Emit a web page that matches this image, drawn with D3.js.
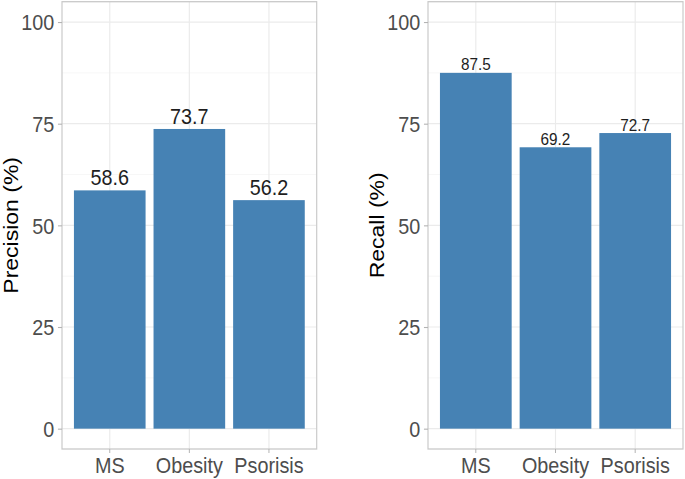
<!DOCTYPE html>
<html>
<head>
<meta charset="utf-8">
<script src="https://cdn.jsdelivr.net/npm/d3@7"></script>
<style>
	html, body { margin: 0; padding: 0; background: #fff; }
	svg { display: block; font-family: "Liberation Sans", Arial, sans-serif; }
</style>
</head>
<body>
<div id="chart"></div>
<script>
const categories = ["MS", "Obesity", "Psorisis"];
const precision = [58.6, 73.7, 56.2];
const recall = [87.5, 69.2, 72.7];
const majorTicks = [0, 25, 50, 75, 100];
const minorTicks = [12.5, 37.5, 62.5, 87.5];

const W = 685, H = 479;
// the original picture is squeezed sideways, so draw in a wider space and squash
const sx = 0.9;

const svg = d3.select("#chart").append("svg")
	.attr("width", W)
	.attr("height", H);

const root = svg.append("g").attr("transform", `scale(${sx},1)`);

const y = d3.scaleLinear().domain([-5, 105]).range([449, 1.7]);

function panel(x0, x1, values, title, titleX, labelSize, labelGap) {
	const g = root.append("g");
	const x = d3.scaleBand()
		.domain(categories)
		.range([x0, x1])
		.paddingInner(0.1)
		.paddingOuter(0.15);

	// grid
	g.selectAll("line.minor").data(minorTicks).enter().append("line")
		.attr("x1", x0).attr("x2", x1)
		.attr("y1", d => y(d)).attr("y2", d => y(d))
		.attr("stroke", "#f3f3f3").attr("stroke-width", 0.7);
	g.selectAll("line.major").data(majorTicks).enter().append("line")
		.attr("x1", x0).attr("x2", x1)
		.attr("y1", d => y(d)).attr("y2", d => y(d))
		.attr("stroke", "#ebebeb").attr("stroke-width", 1.2);
	g.selectAll("line.vgrid").data(categories).enter().append("line")
		.attr("x1", d => x(d) + x.bandwidth() / 2).attr("x2", d => x(d) + x.bandwidth() / 2)
		.attr("y1", y.range()[0]).attr("y2", y.range()[1])
		.attr("stroke", "#ebebeb").attr("stroke-width", 1.3);

	// bars
	g.selectAll("rect.bar").data(values).enter().append("rect")
		.attr("x", (d, i) => x(categories[i]))
		.attr("width", x.bandwidth())
		.attr("y", d => y(d))
		.attr("height", d => y(0) - y(d))
		.attr("fill", "steelblue");

	// value labels
	g.selectAll("text.val").data(values).enter().append("text")
		.attr("x", (d, i) => x(categories[i]) + x.bandwidth() / 2)
		.attr("y", d => y(d) - labelGap)
		.attr("text-anchor", "middle")
		.attr("font-size", labelSize)
		.attr("fill", "#1e1e1e")
		.text(d => d.toFixed(1));

	// border
	g.append("rect")
		.attr("x", x0).attr("y", y.range()[1])
		.attr("width", x1 - x0).attr("height", y.range()[0] - y.range()[1])
		.attr("fill", "none").attr("stroke", "#c9c9c9").attr("stroke-width", 1.3);

	// axes
	const ax = g.append("g")
		.attr("transform", `translate(${x0},0)`)
		.call(d3.axisLeft(y).tickValues(majorTicks).tickSize(4.5).tickPadding(4));
	const bx = g.append("g")
		.attr("transform", `translate(0,${y.range()[0]})`)
		.call(d3.axisBottom(x).tickSize(4).tickPadding(4));
	[ax, bx].forEach(a => {
		a.select(".domain").remove();
		a.selectAll(".tick line").attr("stroke", "#b3b3b3").attr("stroke-width", 1.1);
		a.selectAll(".tick text")
			.attr("fill", "#4d4d4d")
			.attr("font-size", 22)
			.attr("font-family", "Liberation Sans, Arial, sans-serif");
	});
	ax.selectAll(".tick text").attr("dy", "0.36em");
	bx.selectAll(".tick text").attr("dy", "0.72em");

	// y title
	g.append("text")
		.attr("transform", `translate(${titleX},${(y.range()[0] + y.range()[1]) / 2}) rotate(-90)`)
		.attr("text-anchor", "middle")
		.attr("font-size", 23)
		.attr("fill", "#000")
		.text(title);
}

panel(62 / sx, 316.7 / sx, precision, "Precision (%)", 17.6 / sx, 22, 5);
panel(428 / sx, 683 / sx, recall, "Recall (%)", 383.5 / sx, 17, 2.5);
</script>
</body>
</html>
